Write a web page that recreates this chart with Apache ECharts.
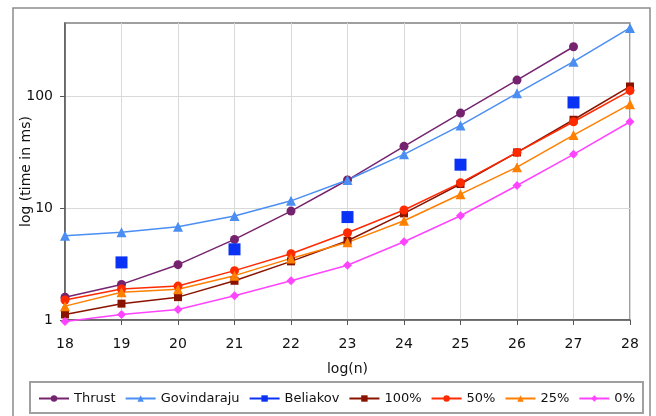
<!DOCTYPE html>
<html>
<head>
<meta charset="utf-8">
<script src="https://cdn.jsdelivr.net/npm/echarts@6/dist/echarts.min.js"></script>
<style>
  html, body { margin: 0; padding: 0; background: #fff; }
  #chart { width: 656px; height: 416px; }
</style>
</head>
<body>
<div id="chart"></div>
<script>
// log(n) values on the x axis
var xValues = [18, 19, 20, 21, 22, 23, 24, 25, 26, 27, 28];
// labelled ticks on the log y axis
var yTicks = [1, 10, 100];

// times in ms
var thrust      = [1.6, 2.08, 3.12, 5.25, 9.4, 17.8, 35.6, 70.5, 139, 276, null];
var govindaraju = [5.66, 6.07, 6.81, 8.48, 11.6, 17.8, 30.2, 54.7, 106, 203, 407];
var beliakov    = [null, 3.27, null, 4.28, null, 8.31, null, 24.4, null, 87.8, null];
var pct100      = [1.12, 1.4, 1.6, 2.24, 3.34, 5.1, 8.96, 16.4, 31.4, 61.5, 122];
var pct50       = [1.51, 1.89, 2.01, 2.76, 3.91, 6.02, 9.6, 16.8, 31.4, 59.0, 112];
var pct25       = [1.33, 1.77, 1.88, 2.49, 3.55, 4.94, 7.7, 13.3, 23.2, 44.9, 84.8];
var pct0        = [0.97, 1.12, 1.24, 1.65, 2.24, 3.08, 5.0, 8.54, 15.9, 30.2, 59];

var FONT = 'DejaVu Sans';

function pairs(vals) {
    return xValues.map(function (x, i) { return [x, vals[i]]; });
}

function line(name, vals, color, symbol, size) {
    return {
        name: name,
        type: 'line',
        data: pairs(vals),
        symbol: symbol,
        symbolSize: size,
        showAllSymbol: true,
        connectNulls: false,
        clip: false,
        lineStyle: { color: color, width: 1.5 },
        itemStyle: { color: color },
        emphasis: { disabled: true },
        animation: false
    };
}

var chart = echarts.init(document.getElementById('chart'));

chart.setOption({
    backgroundColor: '#fff',
    textStyle: { fontFamily: FONT },
    graphic: [{
        type: 'rect',
        shape: { x: 13, y: 8, width: 637, height: 420 },
        style: { fill: 'none', stroke: '#8c8c8c', lineWidth: 1.5 },
        z: -1
    }],
    grid: {
        left: 65, right: 26, top: 23, bottom: 96,
        outerBoundsMode: 'none',
        containLabel: false,
        show: true, borderColor: '#808080', borderWidth: 1.5
    },
    legend: {
        left: 30, top: 382,
        padding: [10, 8, 8, 8],
        borderColor: '#a0a0a0', borderWidth: 2,
        itemWidth: 30, itemHeight: 8, itemGap: 9,
        textStyle: { fontFamily: FONT, fontSize: 13, color: '#111' },
        data: ['Thrust', 'Govindaraju', 'Beliakov', '100%', '50%', '25%', '0%']
    },
    xAxis: {
        type: 'value',
        min: 18, max: 28, interval: 1,
        name: 'log(n)',
        nameLocation: 'middle',
        nameGap: 42,
        nameMoveOverlap: false,
        nameTextStyle: { fontFamily: FONT, fontSize: 14, color: '#111' },
        axisLine: { lineStyle: { color: '#555', width: 1.5 } },
        axisTick: { show: true, length: 5, lineStyle: { color: '#555' } },
        axisLabel: { fontFamily: FONT, fontSize: 14, color: '#111', margin: 17 },
        splitLine: { show: true, lineStyle: { color: '#d9d9d9', width: 1 } }
    },
    yAxis: {
        type: 'log',
        logBase: 10,
        min: 1, max: 450,
        name: 'log (time in ms)',
        nameLocation: 'middle',
        nameGap: 32,
        nameMoveOverlap: false,
        nameTextStyle: { fontFamily: FONT, fontSize: 14, color: '#111' },
        axisLine: { show: true, lineStyle: { color: '#555', width: 1.5 } },
        axisTick: { show: true, length: 5, lineStyle: { color: '#555' }, customValues: yTicks },
        axisLabel: { fontFamily: FONT, fontSize: 14, color: '#111', margin: 12, customValues: yTicks },
        splitLine: { show: true, lineStyle: { color: '#d9d9d9', width: 1 } },
        minorTick: { show: false },
        minorSplitLine: { show: false }
    },
    series: [
        line('Thrust', thrust, '#76236f', 'circle', 9),
        line('Govindaraju', govindaraju, '#4b8ef2', 'triangle', 10),
        line('Beliakov', beliakov, '#0a32f5', 'rect', 12),
        line('100%', pct100, '#8a1300', 'rect', 8),
        line('50%', pct50, '#ff2a00', 'circle', 9),
        line('25%', pct25, '#ff7f00', 'triangle', 10),
        line('0%', pct0, '#ff44ff', 'diamond', 9)
    ]
});
</script>
</body>
</html>
